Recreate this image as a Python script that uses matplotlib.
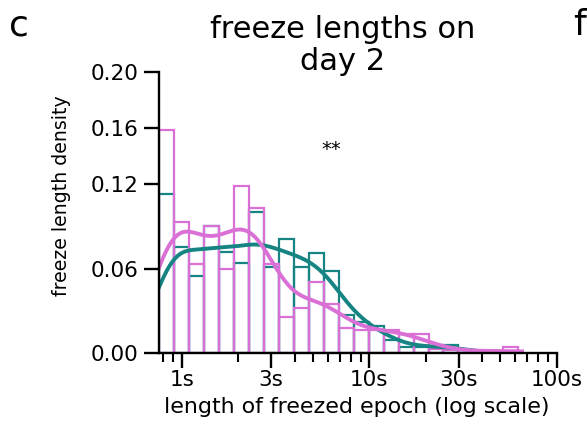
import numpy as np
import matplotlib
matplotlib.use("Agg")
import matplotlib.pyplot as plt
import seaborn as sns

# ---- data ----
bin_lo, bin_hi, n_bins = 0.76, 62.5, 24          # histogram range in seconds
pink_heights = [0.163, 0.096, 0.065, 0.093, 0.061, 0.122, 0.106, 0.065,
                0.026, 0.033, 0.052, 0.036, 0.018, 0.017, 0.017, 0.017,
                0.014, 0.0135, 0.003, 0.002, 0.002, 0.001, 0.0, 0.0045]
teal_heights = [0.113, 0.075, 0.055, 0.090, 0.072, 0.064, 0.100, 0.061,
                0.081, 0.061, 0.071, 0.058, 0.027, 0.022, 0.019, 0.009,
                0.0045, 0.0045, 0.004, 0.006, 0.002, 0.0, 0.0, 0.001]
xtick_vals = [1, 3, 10, 30, 100]
xtick_labels = ["1s", "3s", "10s", "30s", "100s"]
ytick_vals = [0.00, 0.06, 0.12, 0.16, 0.20]
ytick_labels = ["0.00", "0.06", "0.12", "0.16", "0.20"]
title = "freeze lengths on\nday 2"
xlabel = "length of freezed epoch (log scale)"
ylabel = "freeze length density"
sig_text = "**"

# ---- derived bins (log space, as seaborn uses with log_scale) ----
log_edges = np.linspace(np.log10(bin_lo), np.log10(bin_hi), n_bins + 1)
centers = 10 ** ((log_edges[:-1] + log_edges[1:]) / 2)

fig = plt.figure(figsize=(5.87, 4.24), dpi=100)
ax = fig.add_axes([0.2714, 0.1675, 0.6767, 0.6634])

common = dict(bins=list(log_edges), stat="probability", fill=False, kde=True,
              log_scale=True, element="bars",
              kde_kws=dict(bw_adjust=0.5, cut=0.4),
              line_kws=dict(linewidth=2.8), linewidth=1.6, ax=ax)
sns.histplot(x=centers, weights=teal_heights, color="#178484", **common)
sns.histplot(x=centers, weights=pink_heights, color="#DA70D6", **common)

ax.set_xscale("log")
ax.set_xlim(bin_lo, 100)
ax.set_ylim(0, 0.20)
ax.set_xticks(xtick_vals)
ax.set_xticklabels(xtick_labels)
ax.set_yticks(ytick_vals)
ax.set_yticklabels(ytick_labels)
ax.xaxis.set_minor_locator(matplotlib.ticker.LogLocator(base=10, subs=np.arange(2, 10)))
ax.xaxis.set_minor_formatter(matplotlib.ticker.NullFormatter())

for s in ["top", "right"]:
    ax.spines[s].set_visible(False)
for s in ["left", "bottom"]:
    ax.spines[s].set_linewidth(1.7)
    ax.spines[s].set_color("black")

ax.tick_params(axis="both", which="major", length=11, width=1.7, labelsize=15.5, pad=4, colors="black")
ax.tick_params(axis="x", which="minor", length=6.5, width=1.5)
ax.tick_params(axis="x", which="major", pad=1)

ax.set_xlabel(xlabel, fontsize=15.9)
ax.set_ylabel(ylabel, fontsize=13.6)
ax.xaxis.set_label_coords(0.496, -0.157)
ax.yaxis.set_label_coords(-0.222, 0.56)

ax.text(6.26, 0.1405, sig_text, ha="center", va="baseline", fontsize=14)

fig.text(343 / 587, 0.965, title, ha="center", va="top", fontsize=22, linespacing=1.15)
fig.text(9 / 587, 1 - 35 / 424, "c", fontsize=26, va="baseline", ha="left")
fig.text(573 / 587, 1 - 35 / 424, "f", fontsize=26, va="baseline", ha="left")

fig.savefig("out.png", dpi=100)
